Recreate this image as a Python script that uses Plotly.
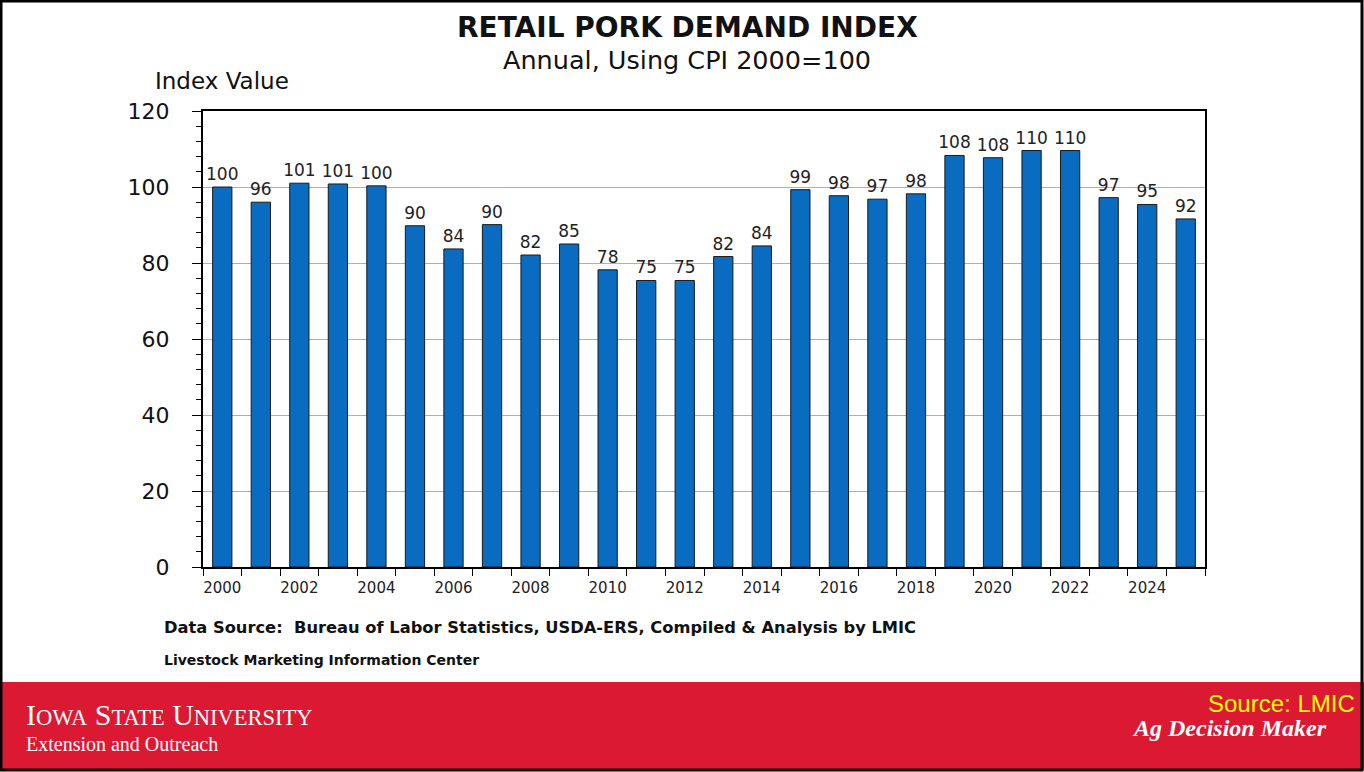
import plotly.graph_objects as go

years = list(range(2000, 2026))
index_values = [100.0, 96.0, 101.0, 100.8, 100.3, 89.8, 83.7, 90.1, 82.1, 85.0,
                78.2, 75.4, 75.4, 81.7, 84.5, 99.3, 97.7, 96.8, 98.2, 108.3,
                107.7, 109.6, 109.6, 97.2, 95.4, 91.6]
value_labels = ["100", "96", "101", "101", "100", "90", "84", "90", "82", "85",
                "78", "75", "75", "82", "84", "99", "98", "97", "98", "108",
                "108", "110", "110", "97", "95", "92"]
year_ticks = list(range(2000, 2026, 2))
y_ticks = [0, 20, 40, 60, 80, 100, 120]

W, H = 1364, 772
L, R, T, B = 203, 1205, 111, 567
FONT = "DejaVu Sans"

def px(x):
    return (x - L) / (R - L)

def py(y):
    return (B - y) / (B - T)

fig = go.Figure()
fig.add_trace(go.Bar(
    x=years, y=index_values, text=value_labels, textposition="outside",
    textfont=dict(family=FONT, size=17, color="#222222"),
    constraintext="none",
    marker=dict(color="#0A6CC0", line=dict(color="#1a1a1a", width=1)),
    width=0.5, cliponaxis=False, hoverinfo="x+y",
))

fig.update_layout(
    width=W, height=H,
    margin=dict(l=L, r=W - R, t=T, b=H - B, autoexpand=False),
    paper_bgcolor="white", plot_bgcolor="white",
    showlegend=False,
    font=dict(family=FONT, color="#111111"),
    xaxis=dict(
        range=[1999.5, 2025.5], tickvals=year_ticks,
        ticktext=[str(v) for v in year_ticks],
        ticks="", tickfont=dict(size=15, family=FONT, color="#222"),
        showgrid=False, showline=True, linecolor="black", linewidth=2,
        mirror=True, zeroline=False, ticklabelstandoff=6,
        minor=dict(tickvals=[y - 0.5 for y in years] + [2025.5],
                   ticks="outside", ticklen=7, tickcolor="black",
                   tickwidth=1, showgrid=False),
    ),
    yaxis=dict(
        range=[0, 120], tickvals=y_ticks, ticks="outside", ticklen=9,
        tickcolor="black", tickwidth=1,
        tickfont=dict(size=22, family=FONT, color="#111"),
        showgrid=True, gridcolor="#b0b0b0", gridwidth=1,
        showline=True, linecolor="black", linewidth=2, mirror=True,
        zeroline=False, ticklabelstandoff=18,
        minor=dict(dtick=4, ticks="outside", ticklen=5, tickcolor="black",
                   tickwidth=1, showgrid=False),
    ),
)

shapes = [
    dict(type="rect", xref="paper", yref="paper",
         x0=px(0), x1=px(W), y0=py(682), y1=py(770),
         fillcolor="#DC1932", line=dict(width=0), layer="below"),
    dict(type="rect", xref="paper", yref="paper",
         x0=px(1), x1=px(W - 2), y0=py(1), y1=py(H - 2),
         fillcolor="rgba(0,0,0,0)", line=dict(color="black", width=3)),
]
fig.update_layout(shapes=shapes)

ann = [
    dict(text="<b>RETAIL PORK DEMAND INDEX</b>", x=px(687), y=py(27),
         font=dict(family="DejaVu Sans", size=28, color="#111")),
    dict(text="Annual, Using CPI 2000=100", x=px(687), y=py(60),
         font=dict(family=FONT, size=25.5, color="#111")),
    dict(text="Index Value", x=px(222), y=py(81),
         font=dict(family=FONT, size=23, color="#111")),
    dict(text="<b>Data Source:  Bureau of Labor Statistics, USDA-ERS, Compiled & Analysis by LMIC</b>",
         x=px(162), y=py(627), xanchor="left",
         font=dict(family=FONT, size=16.3, color="#111")),
    dict(text="<b>Livestock Marketing Information Center</b>",
         x=px(162), y=py(660), xanchor="left",
         font=dict(family=FONT, size=14, color="#111")),
    dict(text="I<span style='font-size:22.5px'>OWA</span> S<span style='font-size:22.5px'>TATE</span> U<span style='font-size:22.5px'>NIVERSITY</span>",
         x=px(24), y=py(714), xanchor="left",
         font=dict(family="Liberation Serif", size=30, color="white")),
    dict(text="Extension and Outreach", x=px(24), y=py(744), xanchor="left",
         font=dict(family="Liberation Serif", size=20, color="white")),
    dict(text="Source: LMIC", x=px(1357), y=py(703), xanchor="right",
         font=dict(family="Liberation Sans", size=24, color="#FFFF00")),
    dict(text="<b><i>Ag Decision Maker</i></b>", x=px(1329), y=py(728),
         xanchor="right",
         font=dict(family="Liberation Serif", size=24, color="white")),
]
for a in ann:
    a.setdefault("xanchor", "center")
    fig.add_annotation(xref="paper", yref="paper", showarrow=False,
                       yanchor="middle", **a)

fig.write_html("out.html", config={"displayModeBar": False},
               post_script="document.body.style.margin='0';document.body.style.padding='0';")
